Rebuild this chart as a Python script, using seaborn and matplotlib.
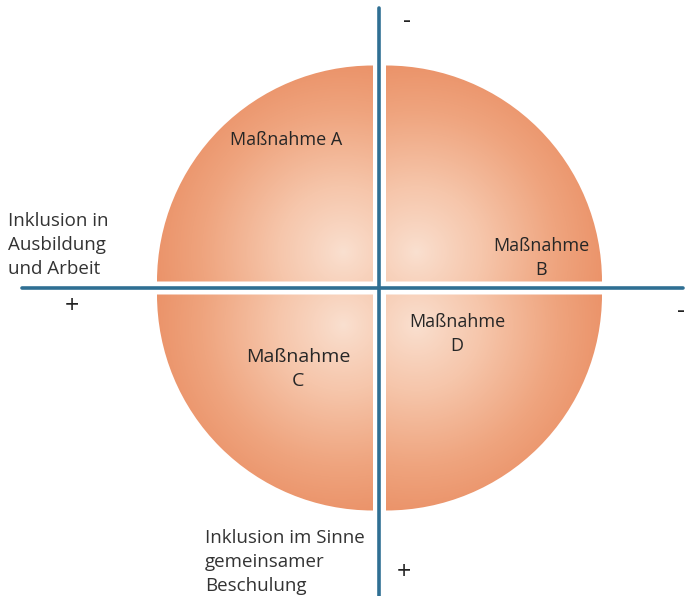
import numpy as np
import matplotlib.pyplot as plt
import seaborn as sns
from matplotlib.patches import Wedge
from matplotlib.colors import LinearSegmentedColormap

sns.set_theme(style="white")
plt.rcParams['font.family'] = ['Open Sans', 'DejaVu Sans']

# quadrant labels (top-left, top-right, bottom-left, bottom-right)
quadrants = ['A', 'B', 'C', 'D']
labels = ['Maßnahme A', 'Maßnahme\nB', 'Maßnahme\nC', 'Maßnahme\nD']
axis_left = 'Inklusion in\nAusbildung\nund Arbeit'
axis_bottom = 'Inklusion im Sinne\ngemeinsamer\nBeschulung'
signs = ['+', '-', '+', '-']  # left, top, bottom, right

W, H = 686, 596
fig = plt.figure(figsize=(W / 100, H / 100), dpi=100)
ax = fig.add_axes([0, 0, 1, 1])
ax.set_xlim(0, W)
ax.set_ylim(H, 0)
ax.axis('off')

cx, cy, r, gap = 379.5, 288, 216, 6.5
cmap = LinearSegmentedColormap.from_list(
    'peach', ['#fae0d0', '#f6c6ab', '#efa47e', '#e8885c'])

# angles in data coords (y axis inverted)
wedge_defs = [(-1, -1, 180, 270), (1, -1, 270, 360), (-1, 1, 90, 180), (1, 1, 0, 90)]
yy, xx = np.mgrid[0:H, 0:W]
for sx, sy, t1, t2 in wedge_defs:
    ox, oy = cx + sx * gap, cy + sy * gap
    gx, gy = ox + sx * 30, oy + sy * 30
    d = np.hypot(xx - gx, yy - gy) / (r + 5)
    img = ax.imshow(np.clip(d, 0, 1) ** 0.9, cmap=cmap, vmin=0, vmax=1,
                    extent=[0, W, H, 0], origin='upper', zorder=1)
    wedge = Wedge((ox, oy), r, t1, t2, transform=ax.transData,
                  facecolor='none', edgecolor='none')
    ax.add_patch(wedge)
    img.set_clip_path(wedge)

line_color = '#2f6f93'
ax.plot([22, 683], [288, 288], color=line_color, lw=2.6, zorder=3)
ax.plot([379, 379], [8, H], color=line_color, lw=2.6, zorder=3)

txt = dict(color='#262626', ha='center', va='center', zorder=4)
ax.text(286, 140, labels[0], fontsize=13, **txt)
ax.text(541, 258, labels[1], fontsize=13, linespacing=1.4, **txt)
ax.text(298, 369, labels[2], fontsize=14, linespacing=1.4, **txt)
ax.text(457, 334, labels[3], fontsize=13, linespacing=1.4, **txt)

ax.text(8, 245, axis_left, fontsize=13.5, color='#333333', ha='left',
        va='center', linespacing=1.45)
ax.text(205, 562, axis_bottom, fontsize=13.5, color='#333333', ha='left',
        va='center', linespacing=1.45)

ax.text(72, 306, signs[0], fontsize=18, color='#222222', ha='center', va='center')
ax.text(407, 21, signs[1], fontsize=18, color='#222222', ha='center', va='center')
ax.text(404, 572, signs[2], fontsize=18, color='#222222', ha='center', va='center')
ax.text(685, 311, signs[3], fontsize=18, color='#222222', ha='right', va='center')

fig.savefig('out.png', dpi=100)
